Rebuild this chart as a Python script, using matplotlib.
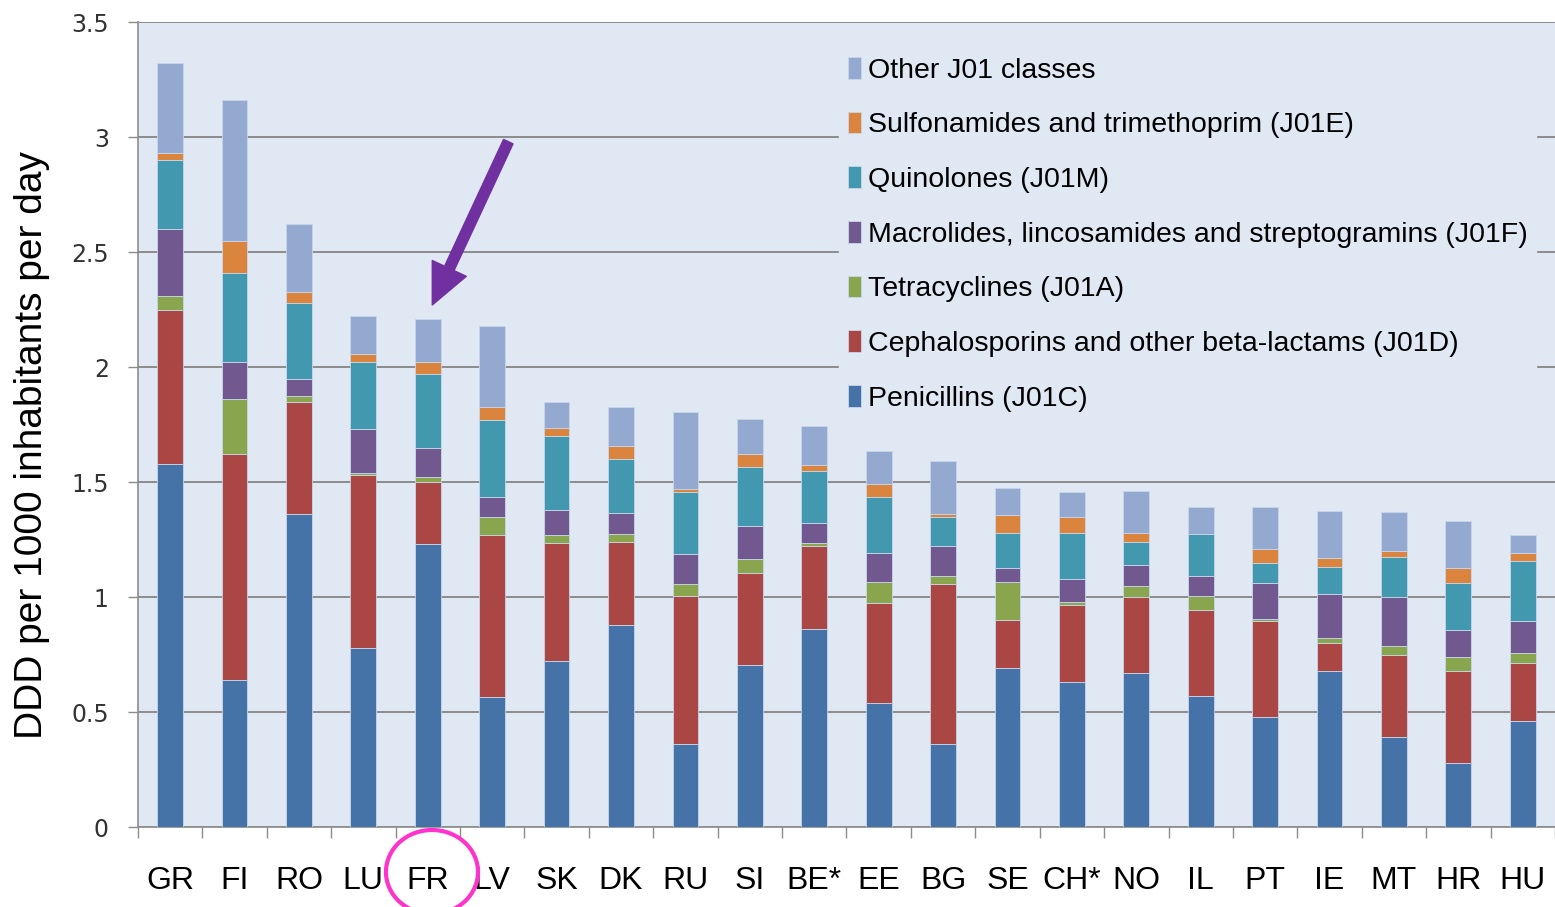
import matplotlib
matplotlib.use('Agg')
import matplotlib.pyplot as plt
import numpy as np
from matplotlib.patches import Ellipse

# Data (DDD per 1000 inhabitants per day)
countries = ['GR', 'FI', 'RO', 'LU', 'FR', 'LV', 'SK', 'DK', 'RU', 'SI', 'BE*',
             'EE', 'BG', 'SE', 'CH*', 'NO', 'IL', 'PT', 'IE', 'MT', 'HR', 'HU']

penicillins = [1.58, 0.64, 1.36, 0.78, 1.23, 0.565, 0.72, 0.88, 0.36, 0.705, 0.86,
               0.54, 0.36, 0.69, 0.63, 0.67, 0.57, 0.48, 0.68, 0.39, 0.28, 0.46]
cephalosporins = [0.67, 0.98, 0.49, 0.75, 0.27, 0.705, 0.515, 0.36, 0.645, 0.40, 0.36,
                  0.435, 0.695, 0.21, 0.335, 0.33, 0.375, 0.415, 0.12, 0.36, 0.40, 0.255]
tetracyclines = [0.06, 0.24, 0.025, 0.01, 0.02, 0.08, 0.035, 0.035, 0.05, 0.06, 0.015,
                 0.09, 0.035, 0.165, 0.015, 0.05, 0.06, 0.01, 0.02, 0.035, 0.06, 0.04]
macrolides = [0.29, 0.16, 0.075, 0.19, 0.13, 0.085, 0.11, 0.09, 0.13, 0.145, 0.085,
              0.125, 0.13, 0.06, 0.10, 0.09, 0.085, 0.155, 0.195, 0.215, 0.115, 0.14]
quinolones = [0.30, 0.39, 0.33, 0.29, 0.32, 0.335, 0.32, 0.235, 0.27, 0.255, 0.23,
              0.245, 0.13, 0.155, 0.20, 0.10, 0.185, 0.09, 0.115, 0.175, 0.205, 0.26]
sulfonamides = [0.03, 0.14, 0.045, 0.035, 0.05, 0.055, 0.035, 0.055, 0.015, 0.055, 0.025,
                0.055, 0.01, 0.075, 0.07, 0.04, 0.0, 0.06, 0.04, 0.025, 0.065, 0.035]
other = [0.39, 0.61, 0.295, 0.165, 0.19, 0.355, 0.115, 0.17, 0.335, 0.155, 0.17,
         0.145, 0.23, 0.12, 0.105, 0.18, 0.115, 0.18, 0.205, 0.17, 0.205, 0.08]

series_labels = ['Penicillins (J01C)',
                 'Cephalosporins and other beta-lactams (J01D)',
                 'Tetracyclines (J01A)',
                 'Macrolides, lincosamides and streptogramins (J01F)',
                 'Quinolones (J01M)',
                 'Sulfonamides and trimethoprim (J01E)',
                 'Other J01 classes']
series_colors = ['#4572A7', '#AA4643', '#89A54E', '#71588F', '#4198AF', '#DB843D', '#93A9CF']

plt.rcParams['font.family'] = ['Liberation Sans', 'DejaVu Sans']

bg = '#DFE8F3'
grid_col = '#8C8C8C'

fig = plt.figure(figsize=(15.55, 9.07), dpi=100)
ax = fig.add_axes([0.0887, 0.0882, 0.9113, 0.8875])
ax.set_facecolor(bg)

x = np.arange(len(countries))
bottom = np.zeros(len(countries))
handles = []
for vals, lab, col in zip([penicillins, cephalosporins, tetracyclines, macrolides,
                           quinolones, sulfonamides, other], series_labels, series_colors):
    b = ax.bar(x, vals, width=0.4, bottom=bottom, color=col, label=lab, zorder=3,
               edgecolor='#C9D6EA', linewidth=0.6)
    handles.append(b)
    bottom += np.array(vals)

ax.set_xlim(-0.5, len(countries) - 0.5)
ax.set_ylim(0, 3.5)

# y axis
yt = np.arange(0, 3.51, 0.5)
ax.set_yticks(yt)
ax.set_yticklabels(['%g' % v for v in yt], fontsize=17, family='DejaVu Sans', color='#333333')
ax.tick_params(axis='y', direction='out', length=7, width=1, color=grid_col, pad=14)
ax.yaxis.grid(True, color=grid_col, linewidth=1.4, zorder=0)
ax.set_axisbelow(True)
ax.set_ylabel('DDD per 1000 inhabitants per day', fontsize=28)
ax.yaxis.set_label_coords(-0.062, 0.4745)

# x axis: labels at centres, ticks between categories
ax.set_xticks(x)
ax.set_xticklabels(countries, fontsize=23)
ax.set_xticks(np.arange(-0.5, len(countries)), minor=True)
ax.tick_params(axis='x', which='major', length=0, pad=28)
ax.tick_params(axis='x', which='minor', direction='out', length=8, width=1, color=grid_col)

for side in ['top', 'right']:
    ax.spines[side].set_visible(False)
for side in ['left', 'bottom']:
    ax.spines[side].set_color(grid_col)
    ax.spines[side].set_linewidth(1.2)

leg = ax.legend(handles[::-1], series_labels[::-1], loc='upper left',
                bbox_to_anchor=(0.485, 0.985), fontsize=20.5, frameon=True,
                facecolor=bg, edgecolor=bg, framealpha=1, fancybox=False,
                handlelength=0.45, handleheight=0.8, handletextpad=0.25,
                labelspacing=0.98, borderpad=0.3)
leg.set_zorder(5)

# purple arrow pointing to FR
ax.annotate('', xy=(4.07, 2.27), xytext=(5.25, 2.98),
            arrowprops=dict(facecolor='#7030A0', edgecolor='#7030A0',
                            width=7.5, headwidth=27, headlength=29, shrink=0),
            zorder=6)

# pink circle around the FR label
circ = Ellipse((0.2778, 0.0386), 0.0592, 0.0926, transform=fig.transFigure,
               fill=False, edgecolor='#FF33CC', linewidth=3)
fig.add_artist(circ)

fig.savefig('out.png', dpi=100)
